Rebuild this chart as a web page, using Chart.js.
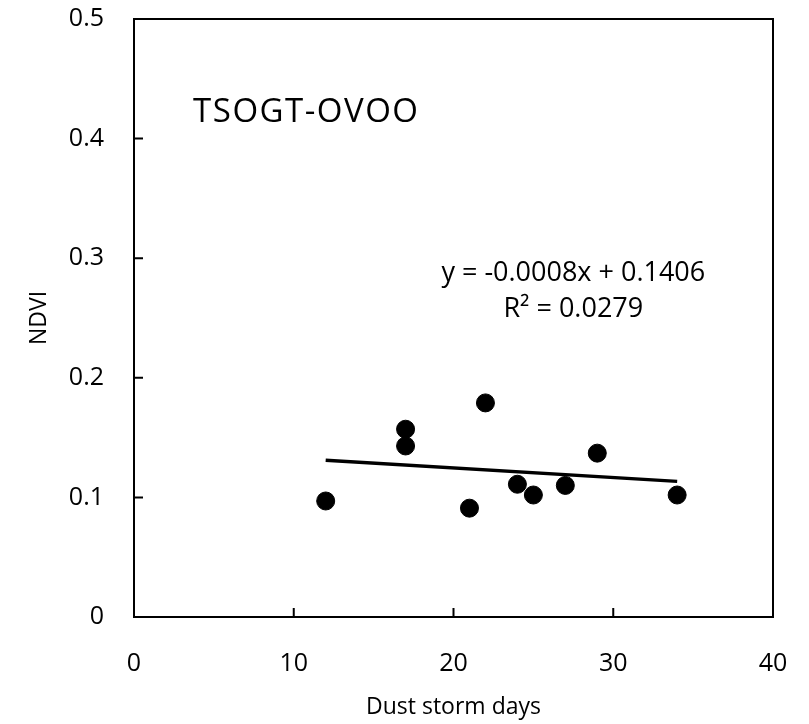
<!DOCTYPE html>
<html>
<head>
<meta charset="utf-8">
<script src="https://cdn.jsdelivr.net/npm/chart.js@4/dist/chart.umd.min.js"></script>
<style>
  html, body { margin: 0; padding: 0; background: #fff; }
  #wrap { width: 809px; height: 724px; }
</style>
</head>
<body>
<div id="wrap"><canvas id="c"></canvas></div>
<script>
// data
const dustDays = [12, 17, 17, 21, 22, 24, 25, 27, 29, 34];
const ndvi = [0.097, 0.157, 0.143, 0.091, 0.179, 0.111, 0.102, 0.110, 0.137, 0.102];
const trendX = [12, 34];
const trendY = [0.1310, 0.1134];
const xTicks = [0, 10, 20, 30, 40];
const yTicks = [0, 0.1, 0.2, 0.3, 0.4, 0.5];

const font = "'Open Sans', 'Liberation Sans', sans-serif";

// frame + inner tick marks + text labels
const extras = {
  id: 'extras',
  afterDraw(chart) {
    const { ctx, chartArea: a, scales } = chart;
    ctx.save();
    ctx.strokeStyle = '#000';
    ctx.lineWidth = 2;
    ctx.strokeRect(a.left, a.top, a.right - a.left, a.bottom - a.top);
    ctx.beginPath();
    xTicks.forEach(v => {
      const x = scales.x.getPixelForValue(v);
      ctx.moveTo(x, a.bottom); ctx.lineTo(x, a.bottom - 9);
    });
    yTicks.forEach(v => {
      const y = scales.y.getPixelForValue(v);
      ctx.moveTo(a.left, y); ctx.lineTo(a.left + 9, y);
    });
    ctx.stroke();

    ctx.fillStyle = '#000';
    ctx.textBaseline = 'middle';
    ctx.textAlign = 'left';
    ctx.font = '33px ' + font;
    ctx.letterSpacing = '1.5px';
    ctx.fillText('TSOGT-OVOO', scales.x.getPixelForValue(3.7), scales.y.getPixelForValue(0.422));
    ctx.letterSpacing = '0px';
    ctx.textAlign = 'center';
    ctx.font = '27px ' + font;
    ctx.fillText('y = -0.0008x + 0.1406', scales.x.getPixelForValue(27.5), scales.y.getPixelForValue(0.287));
    ctx.fillText('R² = 0.0279', scales.x.getPixelForValue(27.5), scales.y.getPixelForValue(0.2575));
    ctx.restore();
  }
};

new Chart(document.getElementById('c'), {
  type: 'scatter',
  data: {
    datasets: [{
      label: 'NDVI',
      data: dustDays.map((d, i) => ({ x: d, y: ndvi[i] })),
      backgroundColor: '#000',
      borderColor: '#000',
      pointRadius: 9,
      pointHoverRadius: 9
    }, {
      label: 'trend',
      type: 'line',
      data: trendX.map((d, i) => ({ x: d, y: trendY[i] })),
      borderColor: '#000',
      borderWidth: 3.5,
      pointRadius: 0,
      fill: false
    }]
  },
  plugins: [extras],
  options: {
    responsive: true,
    maintainAspectRatio: false,
    animation: false,
    events: [],
    layout: { padding: { top: 19, right: 36, left: 0, bottom: 0 } },
    plugins: { legend: { display: false }, tooltip: { enabled: false } },
    scales: {
      x: {
        type: 'linear', min: 0, max: 40,
        afterBuildTicks: s => { s.ticks = xTicks.map(v => ({ value: v })); },
        afterFit: s => { s.height = 107; s.paddingLeft = 0; s.paddingRight = 0; },
        grid: { display: false, drawTicks: false },
        border: { display: false },
        ticks: { color: '#000', font: { family: font, size: 25 }, padding: 32, maxRotation: 0 },
        title: { display: true, text: 'Dust storm days', color: '#000', font: { family: font, size: 23 }, padding: { top: 0, bottom: 3 } }
      },
      y: {
        type: 'linear', min: 0, max: 0.5,
        afterBuildTicks: s => { s.ticks = yTicks.map(v => ({ value: v })); },
        afterFit: s => { s.width = 134; s.paddingTop = 0; s.paddingBottom = 0; },
        grid: { display: false, drawTicks: false },
        border: { display: false },
        ticks: { color: '#000', font: { family: font, size: 25 }, padding: 30,
                 callback: v => v === 0 ? '0' : v.toFixed(1) },
        title: { display: true, text: 'NDVI', color: '#000', font: { family: font, size: 23 }, padding: { top: 26, bottom: 0 } }
      }
    }
  }
});
</script>
</body>
</html>
